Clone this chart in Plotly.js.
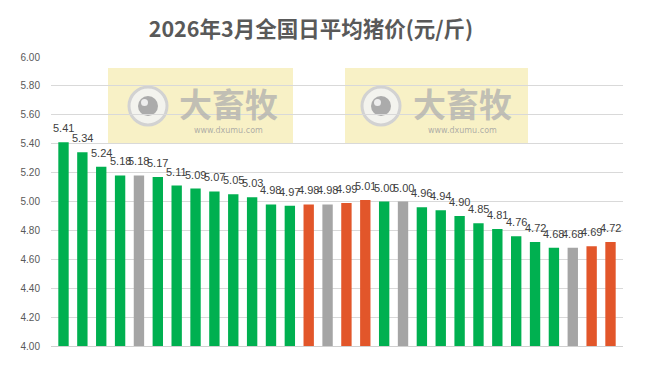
<!DOCTYPE html>
<html>
<head>
<meta charset="utf-8">
<script src="https://cdn.plot.ly/plotly-3.0.1.min.js"></script>
<style>
html,body{margin:0;padding:0;background:#fff;}
#chart{width:650px;height:367px;}
</style>
</head>
<body>
<div id="chart"></div>
<script>
// ---- data ----
const days = ["3/1","3/2","3/3","3/4","3/5","3/6","3/7","3/8","3/9","3/10",
              "3/11","3/12","3/13","3/14","3/15","3/16","3/17","3/18","3/19","3/20",
              "3/21","3/22","3/23","3/24","3/25","3/26","3/27","3/28","3/29","3/30"];
const prices = [5.41,5.34,5.24,5.18,5.18,5.17,5.11,5.09,5.07,5.05,
                5.03,4.98,4.97,4.98,4.98,4.99,5.01,5.00,5.00,4.96,
                4.94,4.90,4.85,4.81,4.76,4.72,4.68,4.68,4.69,4.72];
const trend = ["down","down","down","down","flat","down","down","down","down","down",
               "down","down","down","up","flat","up","up","down","flat","down",
               "down","down","down","down","down","down","down","flat","up","up"];
const yTicks = [4.00,4.20,4.40,4.60,4.80,5.00,5.20,5.40,5.60,5.80,6.00];
const titleText = "2026年3月全国日平均猪价(元/斤)";

// ---- styles ----
const trendColor = {down:"#00B050", flat:"#A5A5A5", up:"#E2562A"};
const W = 650, H = 367;
const M = {l:51, r:27, t:57, b:21};
const pw = W - M.l - M.r, ph = H - M.t - M.b;
const px = x => (x - M.l) / pw;
const py = y => (H - M.b - y) / ph;

const trace = {
  type: "bar",
  x: days,
  y: prices,
  marker: {color: trend.map(t => trendColor[t])},
  hoverinfo: "x+y"
};

const annotations = days.map((d, i) => ({
  x: d, y: prices[i], xref: "x", yref: "y",
  text: prices[i].toFixed(2),
  showarrow: false, yanchor: "bottom", yshift: 6,
  font: {family: "Liberation Sans, Arial, sans-serif", size: 11, color: "#404040"}
}));

// watermarks
const shapes = [];
function watermark(x0, x1, y0, y1, cx, cy, tx) {
  shapes.push({type:"rect", xref:"paper", yref:"paper", layer:"below",
    x0:px(x0), x1:px(x1), y0:py(y1), y1:py(y0),
    fillcolor:"rgba(247,240,192,0.9)", line:{width:0}});
  const r1 = 19, r2 = 10, r3 = 3.5;
  shapes.push({type:"circle", xref:"paper", yref:"paper", layer:"below",
    x0:px(cx-r1), x1:px(cx+r1), y0:py(cy+r1), y1:py(cy-r1),
    fillcolor:"#F3F3EE", line:{color:"#D2D2D2", width:3}});
  shapes.push({type:"circle", xref:"paper", yref:"paper", layer:"below",
    x0:px(cx-r2), x1:px(cx+r2), y0:py(cy+r2), y1:py(cy-r2),
    fillcolor:"#ABABAB", line:{width:0}});
  shapes.push({type:"circle", xref:"paper", yref:"paper", layer:"below",
    x0:px(cx-r2+3), x1:px(cx-r2+3+2*r3), y0:py(cy-r2+3+2*r3), y1:py(cy-r2+3),
    fillcolor:"#EDEDED", line:{width:0}});
  annotations.push({xref:"paper", yref:"paper", x:px(tx), y:py(103),
    text:"<b>大畜牧</b>", showarrow:false, xanchor:"center", yanchor:"middle",
    font:{family:"Noto Sans CJK SC", size:33, color:"rgba(175,175,175,0.75)"}});
  annotations.push({xref:"paper", yref:"paper", x:px(tx), y:py(130),
    text:"www.dxumu.com", showarrow:false, xanchor:"center", yanchor:"middle",
    font:{family:"DejaVu Sans", size:8, color:"rgba(160,160,160,0.85)"}});
}
watermark(108, 293, 68, 144, 148, 106, 228);
watermark(345, 528, 68, 144, 381, 106, 462);

const layout = {
  width: W, height: H,
  margin: M,
  paper_bgcolor: "#fff", plot_bgcolor: "#fff",
  title: {text: titleText, x: 311/W, xref: "container", xanchor: "center", y: 1 - 29/H, yanchor: "middle",
          font: {family: "Noto Sans CJK SC", size: 21.5, color: "#595959", weight: "bold"}},
  bargap: 0.45,
  showlegend: false,
  xaxis: {type: "category", showticklabels: false, showgrid: false, ticks: "",
          showline: true, linecolor: "#D0D0D0", linewidth: 1, zeroline: false,
          fixedrange: true},
  yaxis: {range: [4, 6], tickvals: yTicks, ticktext: yTicks.map(v => v.toFixed(2)),
          showgrid: true, gridcolor: "#D9D9D9", gridwidth: 1, zeroline: false,
          ticks: "", ticklabelstandoff: 10,
          tickfont: {family: "Liberation Sans, Arial, sans-serif", size: 10, color: "#595959"},
          fixedrange: true},
  annotations: annotations,
  shapes: shapes
};

Plotly.newPlot("chart", [trace], layout, {displayModeBar: false, staticPlot: true});
</script>
</body>
</html>
